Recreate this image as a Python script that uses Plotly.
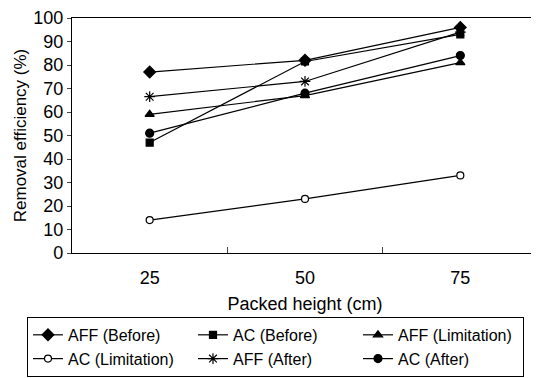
import plotly.graph_objects as go

heights = ["25", "50", "75"]
aff_before = [77, 82, 96]
ac_before = [47, 81.5, 93]
aff_limitation = [59, 67, 81]
ac_limitation = [14, 23, 33]
aff_after = [66.5, 73, 94]
ac_after = [51, 68, 84]

series = [
    ("AFF (Before)", aff_before, "diamond", 9, "black"),
    ("AC (Before)", ac_before, "square", 7, "black"),
    ("AFF (Limitation)", aff_limitation, "triangle-up", 8, "black"),
    ("AC (Limitation)", ac_limitation, "circle", 7, "white"),
    ("AFF (After)", aff_after, "asterisk-open", 9, "black"),
    ("AC (After)", ac_after, "circle", 8, "black"),
]

fig = go.Figure()
for name, vals, sym, sz, fill in series:
    fig.add_trace(go.Scatter(
        x=heights, y=vals, name=name, mode="lines+markers",
        line=dict(color="black", width=1.2),
        marker=dict(symbol=sym, size=sz, color=fill,
                    line=dict(color="black", width=1.2)),
    ))

font = "Liberation Sans, Arial, sans-serif"
fig.update_layout(
    width=531, height=370,
    margin=dict(l=64, r=1, t=10, b=125, autoexpand=False),
    paper_bgcolor="white", plot_bgcolor="white",
    font=dict(family=font, color="black", size=16),
    showlegend=True,
    legend=dict(
        orientation="h", x=-0.0966, y=-0.272, xanchor="left", yanchor="top",
        entrywidth=120, entrywidthmode="pixels", itemwidth=30,
        bordercolor="black", borderwidth=1, font=dict(size=16),
        tracegroupgap=0,
    ),
    xaxis=dict(
        type="category", range=[-0.5, 2.5], tickson="boundaries",
        ticks="inside", ticklen=6, ticklabelstandoff=8,
        showline=True, linecolor="black", linewidth=1.2, mirror=True,
        showgrid=False, tickfont=dict(size=18),
        title=dict(text="Packed height (cm)", font=dict(size=18), standoff=10),
    ),
    yaxis=dict(
        range=[0, 100], dtick=10, ticks="outside", ticklen=4,
        ticklabeloverflow="allow",
        showline=True, linecolor="black", linewidth=1.2, mirror=True,
        showgrid=False, zeroline=False, tickfont=dict(size=18),
        title=dict(text="Removal efficiency (%)", font=dict(size=17), standoff=2),
    ),
)

fig.write_html("out.html")
